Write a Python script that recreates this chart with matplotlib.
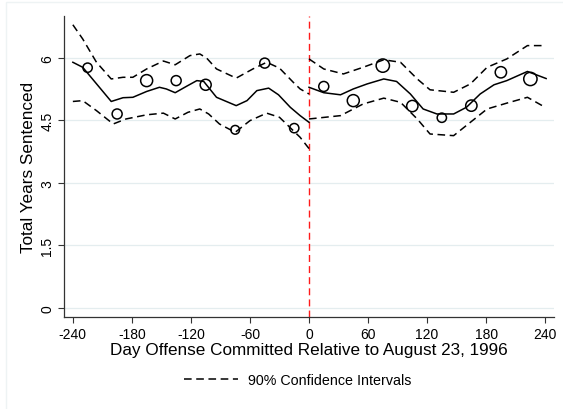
import matplotlib
matplotlib.use("Agg")
import matplotlib.pyplot as plt
from matplotlib.patches import Rectangle

plt.rcParams['font.family'] = ['Liberation Sans', 'DejaVu Sans']

# Binned means (open circles)
bin_x = [-225, -195, -165, -135, -105, -75, -45, -15, 15, 45, 75, 105, 135, 165, 195, 225]
bin_y = [5.76, 4.65, 5.45, 5.45, 5.35, 4.27, 5.87, 4.31, 5.31, 4.97, 5.81, 4.84, 4.56, 4.85, 5.65, 5.49]
bin_d = [9.3, 10, 12, 10, 11, 8.7, 10, 9.3, 10, 12, 13.3, 11.3, 9.3, 11.3, 11.3, 13.3]  # marker diameters

# Fitted line, pre-period
pre_x = [-240, -230, -201, -189, -179, -165, -152, -145, -136, -124, -114, -107, -94, -74, -63, -53, -41, -31, -19, -9, 0]
pre_fit = [5.89, 5.77, 4.95, 5.04, 5.05, 5.19, 5.29, 5.25, 5.16, 5.32, 5.45, 5.43, 5.05, 4.85, 4.97, 5.21, 5.27, 5.11, 4.81, 4.61, 4.45]
pre_up_x = [-240, -230, -216, -201, -189, -179, -165, -148, -136, -121, -111, -104, -94, -74, -57, -43, -30, -16, -9, 0]
pre_up = [6.79, 6.45, 5.89, 5.49, 5.53, 5.53, 5.73, 5.92, 5.83, 6.05, 6.09, 5.99, 5.73, 5.51, 5.73, 5.89, 5.75, 5.41, 5.25, 5.13]
pre_lo_x = [-240, -230, -216, -199, -186, -165, -148, -136, -123, -111, -102, -91, -75, -60, -43, -30, -16, -9, 0]
pre_lo = [4.95, 4.97, 4.73, 4.41, 4.53, 4.63, 4.67, 4.53, 4.69, 4.77, 4.65, 4.41, 4.21, 4.49, 4.67, 4.57, 4.25, 4.09, 3.82]

# Fitted line, post-period
post_x = [0, 15, 32, 45, 59, 76, 89, 103, 116, 130, 147, 160, 174, 188, 201, 222, 241]
post_fit = [5.29, 5.16, 5.11, 5.25, 5.37, 5.49, 5.43, 5.13, 4.77, 4.65, 4.65, 4.81, 5.13, 5.35, 5.45, 5.67, 5.5]
post_up_x = [0, 15, 35, 55, 76, 93, 110, 123, 147, 164, 181, 201, 222, 240]
post_up = [5.97, 5.73, 5.61, 5.77, 5.95, 5.89, 5.49, 5.23, 5.17, 5.37, 5.77, 5.97, 6.29, 6.29]
post_lo_x = [0, 32, 55, 76, 93, 110, 123, 147, 164, 181, 201, 222, 240]
post_lo = [4.53, 4.61, 4.89, 5.03, 4.93, 4.53, 4.17, 4.13, 4.45, 4.77, 4.91, 5.05, 4.81]

x_ticks = [-240, -180, -120, -60, 0, 60, 120, 180, 240]
y_ticks = [0, 1.5, 3, 4.5, 6]
y_tick_labels = ['0', '1.5', '3', '4.5', '6']

fig = plt.figure(figsize=(5.63, 4.10), dpi=100)
fig.patch.set_facecolor('white')
# faint graph-region border
fig.patches.append(Rectangle((6 / 563, -0.01), 1.0, 1 - 3 / 410 + 0.01, transform=fig.transFigure,
                             fill=False, edgecolor='#EEF3F4', lw=1.0, zorder=0))

ax = fig.add_axes([64 / 563, 1 - 318 / 410, (554 - 64) / 563, (318 - 17) / 410])
ax.set_xlim(-249, 249)
ax.set_ylim(-0.22, 7.0)

for yv in y_ticks:
    ax.axhline(yv, color='#E4EDEF', lw=0.9, zorder=0)

ax.axvline(0, color='#FF1A1A', lw=1.0, dashes=(5, 3), zorder=2)

ax.plot(pre_x, pre_fit, color='black', lw=1.1, zorder=3)
ax.plot(post_x, post_fit, color='black', lw=1.1, zorder=3)
ci_lines = []
for xs, ys in [(pre_up_x, pre_up), (pre_lo_x, pre_lo), (post_up_x, post_up), (post_lo_x, post_lo)]:
    l, = ax.plot(xs, ys, color='black', lw=1.1, dashes=(5, 3), zorder=3)
    ci_lines.append(l)

sizes = [(d * 0.72) ** 2 for d in bin_d]
ax.scatter(bin_x, bin_y, s=sizes, facecolors='none', edgecolors='black', linewidths=1.1, zorder=4)

for s in ['top', 'right']:
    ax.spines[s].set_visible(False)
for s in ['left', 'bottom']:
    ax.spines[s].set_color('#333333')
    ax.spines[s].set_linewidth(0.9)

ax.set_xticks(x_ticks)
ax.set_xticklabels([str(v) for v in x_ticks], fontsize=10)
ax.set_yticks(y_ticks)
ax.set_yticklabels(y_tick_labels, fontsize=10, rotation=90, va='center')
ax.tick_params(axis='both', direction='out', length=4, width=0.8, color='#333333', pad=3)

ax.set_xlabel('Day Offense Committed Relative to August 23, 1996', fontsize=12.3, labelpad=1)
ax.set_ylabel('Total Years Sentenced', fontsize=12.3, labelpad=3)

leg = fig.legend([ci_lines[0]], ['90% Confidence Intervals'], loc='center',
                 bbox_to_anchor=(298 / 563, 1 - 381 / 410), frameon=False, fontsize=10.3,
                 handlelength=3.8, handletextpad=0.7)

fig.savefig('out.png', dpi=100, facecolor='white')
